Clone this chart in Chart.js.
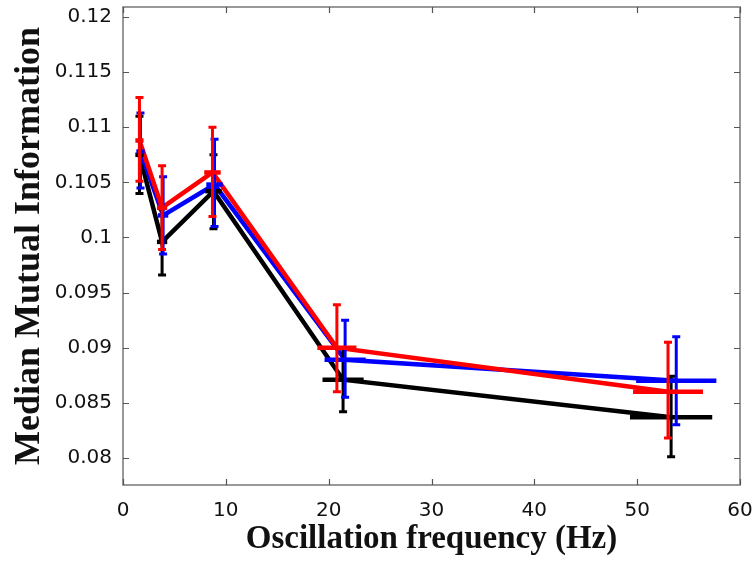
<!DOCTYPE html>
<html><head><meta charset="utf-8">
<script src="https://cdn.jsdelivr.net/npm/chart.js@4/dist/chart.umd.min.js"></script>
<style>html,body{margin:0;padding:0;background:#fff}#wrap{width:756px;height:561px}</style>
</head><body><div id="wrap"><canvas id="c" width="756" height="561"></canvas></div>
<script>
// ---- data ----
const xTicks = [0, 10, 20, 30, 40, 50, 60];
const yTicks = [0.08, 0.085, 0.09, 0.095, 0.1, 0.105, 0.11, 0.115, 0.12];
const yTickLabels = ['0.08', '0.085', '0.09', '0.095', '0.1', '0.105', '0.11', '0.115', '0.12'];

const blackFreq = [1.6, 3.8, 8.8, 21.4, 53.3];
const blackMI   = [0.1075, 0.0996, 0.1042, 0.0871, 0.0837];
const blackLow  = [0.1040, 0.0966, 0.1008, 0.0842, 0.0801];
const blackHigh = [0.1110, 0.1026, 0.1075, 0.0900, 0.0874];
const blackFreqErr = [0.4, 0.5, 0.8, 2.0, 4.0];

const blueFreq = [1.7, 3.9, 8.9, 21.6, 53.8];
const blueMI   = [0.1078, 0.1020, 0.1048, 0.0889, 0.0870];
const blueLow  = [0.1045, 0.0985, 0.1010, 0.0855, 0.0830];
const blueHigh = [0.1113, 0.1055, 0.1089, 0.0925, 0.0910];
const blueFreqErr = [0.4, 0.5, 0.8, 2.0, 3.9];

const redFreq = [1.6, 3.8, 8.7, 20.8, 53.0];
const redMI   = [0.1088, 0.1027, 0.1059, 0.0900, 0.0860];
const redLow  = [0.1051, 0.0989, 0.1019, 0.0860, 0.0818];
const redHigh = [0.1127, 0.1065, 0.1100, 0.0939, 0.0905];
const redFreqErr = [0.4, 0.5, 0.8, 1.9, 3.4];

const series = [
  {name: 'black', color: '#000000', freq: blackFreq, mi: blackMI, low: blackLow, high: blackHigh, ferr: blackFreqErr},
  {name: 'blue',  color: '#0000ff', freq: blueFreq,  mi: blueMI,  low: blueLow,  high: blueHigh,  ferr: blueFreqErr},
  {name: 'red',   color: '#ff0000', freq: redFreq,   mi: redMI,   low: redLow,   high: redHigh,   ferr: redFreqErr}
];

const toPts = s => s.freq.map((f, i) => ({x: f, y: s.mi[i]}));

const errPlugin = {
  id: 'errbars',
  afterDatasetsDraw(chart) {
    const ctx = chart.ctx, xs = chart.scales.x, ys = chart.scales.y;
    ctx.save();
    ctx.lineCap = 'butt';
    series.forEach(s => {
      ctx.strokeStyle = s.color;
      s.freq.forEach((f, i) => {
        const px = xs.getPixelForValue(f);
        const py = ys.getPixelForValue(s.mi[i]);
        const lo = ys.getPixelForValue(s.low[i]);
        const hi = ys.getPixelForValue(s.high[i]);
        ctx.lineWidth = 3;
        ctx.beginPath();
        ctx.moveTo(px, lo); ctx.lineTo(px, hi);
        ctx.moveTo(px - 4, lo); ctx.lineTo(px + 4, lo);
        ctx.moveTo(px - 4, hi); ctx.lineTo(px + 4, hi);
        ctx.stroke();
        ctx.lineWidth = 4.5;
        ctx.beginPath();
        ctx.moveTo(xs.getPixelForValue(f - s.ferr[i]), py);
        ctx.lineTo(xs.getPixelForValue(f + s.ferr[i]), py);
        ctx.stroke();
      });
    });
    ctx.restore();
  },
  afterDraw(chart) {
    const ctx = chart.ctx, a = chart.chartArea, xs = chart.scales.x, ys = chart.scales.y;
    ctx.save();
    ctx.strokeStyle = '#777777';
    ctx.lineWidth = 1.5;
    ctx.strokeRect(a.left, a.top, a.right - a.left, a.bottom - a.top);
    ctx.lineWidth = 1.2;
    ctx.strokeStyle = '#555555';
    ctx.beginPath();
    yTicks.forEach(v => {
      const y = Math.round(ys.getPixelForValue(v)) + 0.5;
      ctx.moveTo(a.left, y); ctx.lineTo(a.left + 6, y);
      ctx.moveTo(a.right, y); ctx.lineTo(a.right - 6, y);
    });
    xTicks.forEach(v => {
      const x = Math.round(xs.getPixelForValue(v)) + 0.5;
      ctx.moveTo(x, a.bottom); ctx.lineTo(x, a.bottom - 6);
      ctx.moveTo(x, a.top); ctx.lineTo(x, a.top + 6);
    });
    ctx.stroke();
    ctx.restore();
  }
};

const datasets = [...series].reverse().map(s => ({
  label: s.name,
  data: toPts(s),
  borderColor: s.color,
  backgroundColor: s.color,
  borderWidth: 4.5,
  pointRadius: 0,
  showLine: true,
  tension: 0,
  clip: false
}));

new Chart(document.getElementById('c'), {
  type: 'scatter',
  data: {datasets},
  plugins: [errPlugin],
  options: {
    responsive: false,
    animation: false,
    devicePixelRatio: 1,
    layout: {padding: {top: 7, right: 16, left: 0, bottom: 0}},
    plugins: {legend: {display: false}, tooltip: {enabled: false}},
    scales: {
      x: {
        type: 'linear', min: 0, max: 60,
        afterBuildTicks: sc => { sc.ticks = xTicks.map(v => ({value: v})); },
        afterFit: sc => { sc.height = 76; sc.paddingLeft = 0; sc.paddingRight = 0; },
        grid: {display: false, drawTicks: false},
        border: {display: false},
        ticks: {padding: 14, color: '#111', font: {family: 'DejaVu Sans', size: 20}, maxRotation: 0,
          callback: v => String(v)},
        title: {display: true, text: 'Oscillation frequency (Hz)', color: '#111',
          font: {family: 'Liberation Serif', size: 33, weight: 'bold', lineHeight: 1.2}, padding: {top: 0, bottom: 2}}
      },
      y: {
        type: 'linear', min: 0.077545, max: 0.120909,
        afterBuildTicks: sc => { sc.ticks = yTicks.map(v => ({value: v})); },
        afterFit: sc => { sc.width = 123; sc.paddingTop = 0; sc.paddingBottom = 0; },
        grid: {display: false, drawTicks: false},
        border: {display: false},
        ticks: {padding: 11, color: '#111', font: {family: 'DejaVu Sans', size: 20},
          callback: (v, i) => yTickLabels[i]},
        title: {display: true, text: 'Median Mutual Information', color: '#111',
          font: {family: 'Liberation Serif', size: 36, weight: 'bold', lineHeight: 1.2}, padding: {top: 8, bottom: 0}}
      }
    }
  }
});
</script>
</body></html>
